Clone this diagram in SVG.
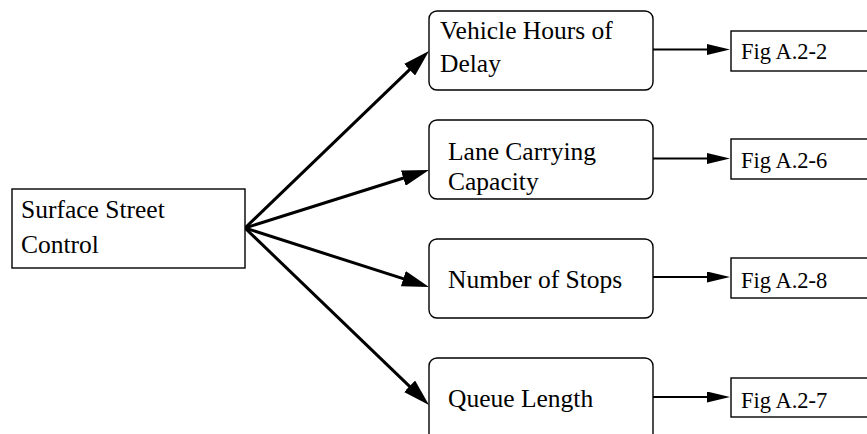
<svg xmlns="http://www.w3.org/2000/svg" width="867" height="434" viewBox="0 0 867 434">
<style>
.box{fill:#fff;stroke:#000;stroke-width:1.4}
.t{font-family:"Liberation Serif","Times New Roman",serif;font-size:25.5px;fill:#000}
.f{font-family:"Liberation Serif","Times New Roman",serif;font-size:22.5px;fill:#000}
.main{stroke:#000;stroke-width:3;fill:none;marker-end:url(#big)}
.side{stroke:#000;stroke-width:1.8;fill:none;marker-end:url(#small)}
</style>
<defs>
<marker id="big" markerUnits="userSpaceOnUse" markerWidth="27" markerHeight="16" refX="17" refY="8" orient="auto" viewBox="0 0 27 16"><path d="M0,0 L27,8 L0,16 z" fill="#000"/></marker>
<marker id="small" markerUnits="userSpaceOnUse" markerWidth="23" markerHeight="11" refX="13" refY="5.5" orient="auto" viewBox="0 0 23 11"><path d="M0,0 L23,5.5 L0,11 z" fill="#000"/></marker>
</defs>
<rect width="867" height="434" fill="#fff"/>
<g id="connectors">
<path class="main" d="M245,228 L421.8,57.9"/>
<path class="main" d="M245,228 L419.5,173"/>
<path class="main" d="M245,228 L419.5,283.9"/>
<path class="main" d="M245,228 L421.8,398.1"/>
<path class="side" d="M653,49.5 L720,49.5"/>
<path class="side" d="M653,158.5 L720,158.5"/>
<path class="side" d="M653,277 L720,277"/>
<path class="side" d="M653,397 L720,397"/>
</g>
<g id="surface-street-control">
<rect class="box" x="12" y="189" width="233" height="79"/>
<text class="t" x="21" y="218">Surface Street</text>
<text class="t" x="21" y="253">Control</text>
</g>
<g id="vehicle-hours-of-delay">
<rect class="box" x="429" y="11" width="224" height="79" rx="8"/>
<text class="t" x="440" y="39">Vehicle Hours of</text>
<text class="t" x="440" y="72">Delay</text>
</g>
<g id="lane-carrying-capacity">
<rect class="box" x="429" y="120" width="224" height="79" rx="8"/>
<text class="t" x="448" y="160">Lane Carrying</text>
<text class="t" x="448" y="190">Capacity</text>
</g>
<g id="number-of-stops">
<rect class="box" x="429" y="239" width="224" height="79" rx="8"/>
<text class="t" x="448" y="288">Number of Stops</text>
</g>
<g id="queue-length">
<rect class="box" x="429" y="358" width="224" height="90" rx="8"/>
<text class="t" x="448" y="407">Queue Length</text>
</g>
<g id="fig-a2-2">
<rect class="box" x="731" y="31" width="160" height="40"/>
<text class="f" x="741" y="59">Fig A.2-2</text>
</g>
<g id="fig-a2-6">
<rect class="box" x="731" y="139" width="160" height="40"/>
<text class="f" x="741" y="168">Fig A.2-6</text>
</g>
<g id="fig-a2-8">
<rect class="box" x="731" y="258" width="160" height="40"/>
<text class="f" x="741" y="288">Fig A.2-8</text>
</g>
<g id="fig-a2-7">
<rect class="box" x="731" y="378" width="160" height="39"/>
<text class="f" x="741" y="408">Fig A.2-7</text>
</g>
</svg>
